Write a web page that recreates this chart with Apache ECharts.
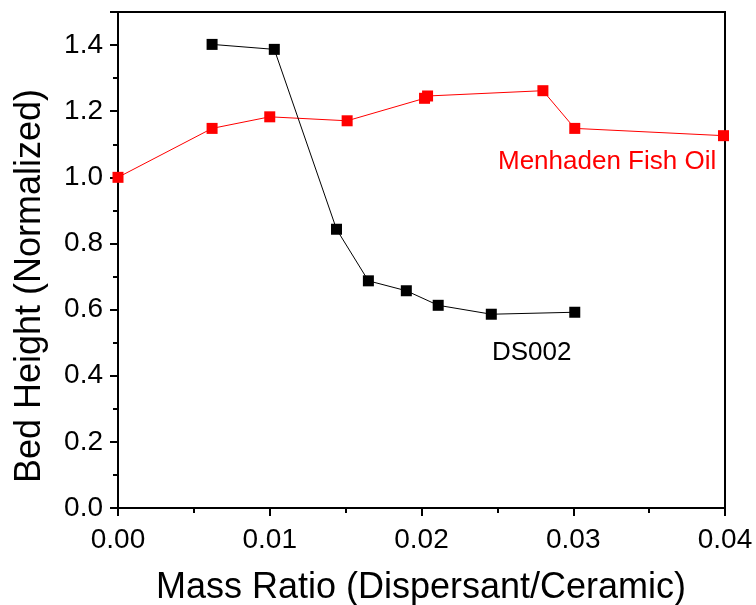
<!DOCTYPE html>
<html>
<head>
<meta charset="utf-8">
<script src="https://cdn.jsdelivr.net/npm/echarts@6/dist/echarts.min.js"></script>
<style>
  html, body { margin: 0; padding: 0; background: #fff; }
  #main { width: 756px; height: 605px; }
</style>
</head>
<body>
<div id="main"></div>
<script>
// DS002 dispersant
var ds002X = [0.0062, 0.0103, 0.0144, 0.0165, 0.0190, 0.0211, 0.0246, 0.0301];
var ds002Y = [1.402, 1.387, 0.843, 0.687, 0.657, 0.613, 0.586, 0.592];

// Menhaden fish oil
var fishX = [0.0, 0.0062, 0.0100, 0.0151, 0.0202, 0.0204, 0.0280, 0.0301, 0.0399];
var fishY = [1.0, 1.148, 1.183, 1.171, 1.239, 1.246, 1.262, 1.148, 1.126];

var xTicks = [0, 0.01, 0.02, 0.03, 0.04];
var yTicks = [0, 0.2, 0.4, 0.6, 0.8, 1.0, 1.2, 1.4];

var font = '"Liberation Sans", Arial, sans-serif';

function pairs(xs, ys) {
    return xs.map(function (x, i) { return [x, ys[i]]; });
}

var chartDom = document.getElementById('main');
var myChart = echarts.init(chartDom);
var option;

option = {
    animation: false,
    backgroundColor: '#fff',
    grid: {
        left: 118, right: 31, top: 12, bottom: 97,
        show: true,
        borderColor: '#000',
        borderWidth: 2
    },
    xAxis: {
        type: 'value',
        min: xTicks[0],
        max: xTicks[xTicks.length - 1],
        interval: 0.01,
        splitLine: { show: false },
        axisLine: { lineStyle: { color: '#000', width: 2 } },
        axisTick: { inside: false, length: 8, lineStyle: { color: '#000', width: 2 } },
        minorTick: { show: true, splitNumber: 2, length: 5, lineStyle: { color: '#000', width: 2 } },
        axisLabel: {
            margin: 18,
            color: '#000',
            fontFamily: font,
            fontSize: 28,
            formatter: function (v) { return v.toFixed(2); }
        }
    },
    yAxis: {
        type: 'value',
        min: 0,
        max: 1.5,
        interval: 0.2,
        splitLine: { show: false },
        axisLine: { lineStyle: { color: '#000', width: 2 } },
        axisTick: { inside: false, length: 8, lineStyle: { color: '#000', width: 2 } },
        minorTick: { show: true, splitNumber: 2, length: 5, lineStyle: { color: '#000', width: 2 } },
        axisLabel: {
            margin: 15,
            color: '#000',
            fontFamily: font,
            fontSize: 28,
            showMaxLabel: false,
            formatter: function (v) {
                return yTicks.some(function (t) { return Math.abs(t - v) < 1e-6; }) ? v.toFixed(1) : '';
            }
        }
    },
    series: [
        {
            name: 'Menhaden Fish Oil',
            type: 'line',
            data: pairs(fishX, fishY),
            symbol: 'rect',
            symbolSize: 11,
            itemStyle: { color: '#ff0000' },
            lineStyle: { color: '#ff0000', width: 1 }
        },
        {
            name: 'DS002',
            type: 'line',
            data: pairs(ds002X, ds002Y),
            symbol: 'rect',
            symbolSize: 11,
            itemStyle: { color: '#000' },
            lineStyle: { color: '#000', width: 1 }
        }
    ],
    graphic: [
        {
            type: 'text', x: 498, y: 162,
            style: { text: 'Menhaden Fish Oil', fill: '#ff0000', font: '26px ' + font, textAlign: 'left', textVerticalAlign: 'middle' }
        },
        {
            type: 'text', x: 492, y: 353,
            style: { text: 'DS002', fill: '#000', font: '26px ' + font, textAlign: 'left', textVerticalAlign: 'middle' }
        },
        {
            type: 'text', x: 421, y: 588,
            style: { text: 'Mass Ratio (Dispersant/Ceramic)', fill: '#000', font: '36px ' + font, textAlign: 'center', textVerticalAlign: 'middle' }
        },
        {
            type: 'text', x: 30, y: 286, rotation: Math.PI / 2,
            style: { text: 'Bed Height (Normalized)', fill: '#000', font: '36px ' + font, textAlign: 'center', textVerticalAlign: 'middle' }
        }
    ]
};

option && myChart.setOption(option);
</script>
</body>
</html>
